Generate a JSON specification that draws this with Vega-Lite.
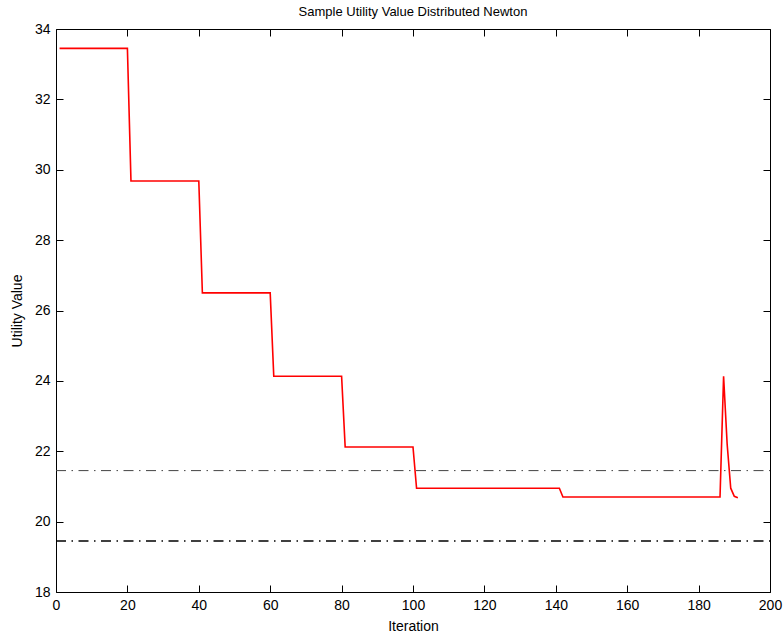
{
  "$schema": "https://vega.github.io/schema/vega-lite/v6.json",
  "width": 714,
  "height": 563,
  "autosize": {"type": "none"},
  "padding": {"left": 56, "top": 29, "right": 13, "bottom": 48},
  "background": "white",
  "config": {
    "font": "Liberation Sans",
    "view": {"stroke": "black", "strokeWidth": 1},
    "axis": {"domain": false, "grid": false, "labelColor": "black", "titleColor": "black", "labelFontSize": 14, "titleFontSize": 14, "titleFontWeight": "normal", "labelFont": "Liberation Sans", "titleFont": "Liberation Sans"}
  },
  "title": {"text": "Sample Utility Value Distributed Newton", "fontSize": 13, "fontWeight": "normal", "font": "Liberation Sans", "color": "black", "anchor": "middle", "offset": 3},
  "resolve": {"axis": {"x": "independent", "y": "independent"}},
  "layer": [
    {
      "data": {"values": [
        {"iteration": 1, "utility": 33.45},
        {"iteration": 20, "utility": 33.45},
        {"iteration": 21, "utility": 29.68},
        {"iteration": 40, "utility": 29.68},
        {"iteration": 41, "utility": 26.5},
        {"iteration": 60, "utility": 26.5},
        {"iteration": 61, "utility": 24.13},
        {"iteration": 80, "utility": 24.13},
        {"iteration": 81, "utility": 22.12},
        {"iteration": 100, "utility": 22.12},
        {"iteration": 101, "utility": 20.95},
        {"iteration": 141, "utility": 20.95},
        {"iteration": 142, "utility": 20.7},
        {"iteration": 186, "utility": 20.7},
        {"iteration": 187, "utility": 24.13},
        {"iteration": 188, "utility": 22.2},
        {"iteration": 189, "utility": 20.95},
        {"iteration": 190, "utility": 20.72},
        {"iteration": 191, "utility": 20.68}
      ]},
      "mark": {"type": "line", "color": "#ff0000", "strokeWidth": 1.6},
      "encoding": {
        "x": {"field": "iteration", "type": "quantitative", "scale": {"domain": [0, 200], "nice": false}, "axis": {"orient": "bottom", "title": "Iteration", "values": [0,20,40,60,80,100,120,140,160,180,200], "ticks": true, "tickSize": 7, "tickWidth": 1, "tickColor": "#000000", "offset": -7, "labelPadding": 6, "titlePadding": 7, "labelFlush": false}},
        "y": {"field": "utility", "type": "quantitative", "scale": {"domain": [18, 34], "nice": false, "zero": false}, "axis": {"orient": "left", "title": "Utility Value", "values": [18,20,22,24,26,28,30,32,34], "ticks": true, "tickSize": 7, "tickWidth": 1, "tickColor": "#000000", "offset": -7, "labelPadding": 6, "titlePadding": 10}}
      }
    },
    {
      "data": {"values": [{"level": 21.45}]},
      "mark": {"type": "rule", "color": "#444444", "strokeWidth": 1, "strokeDash": [10, 5.5, 1.5, 5.5]},
      "encoding": {
        "y": {"field": "level", "type": "quantitative", "axis": null},
        "x": {"datum": 0, "axis": null},
        "x2": {"datum": 200}
      }
    },
    {
      "data": {"values": [{"level": 19.45}]},
      "mark": {"type": "rule", "color": "#000000", "strokeWidth": 1.3, "strokeDash": [10, 5.5, 1.5, 5.5]},
      "encoding": {
        "y": {"field": "level", "type": "quantitative", "axis": {"orient": "right", "title": null, "labels": false, "values": [18,20,22,24,26,28,30,32,34], "ticks": true, "tickSize": 7, "tickWidth": 1, "tickColor": "#000000", "offset": -7}},
        "x": {"datum": 0, "type": "quantitative", "axis": {"orient": "top", "title": null, "labels": false, "values": [0,20,40,60,80,100,120,140,160,180,200], "ticks": true, "tickSize": 7, "tickWidth": 1, "tickColor": "#000000", "offset": -7}},
        "x2": {"datum": 200}
      }
    }
  ]
}
